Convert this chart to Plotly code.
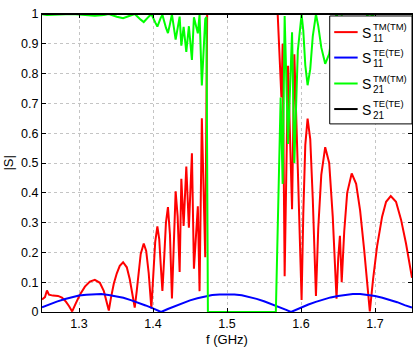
import plotly.graph_objects as go

# Frequency sweep (GHz) and reflection magnitude |S11| for TM incidence
freq_s11_tm = [
    1.2500, 1.2540, 1.2567, 1.2594, 1.2648, 1.2716, 1.2770, 1.2823, 1.2864, 1.2908,
    1.2958, 1.3012, 1.3080, 1.3147, 1.3214, 1.3282, 1.3336, 1.3376, 1.3403,
    1.3430, 1.3470, 1.3511, 1.3551, 1.3596, 1.3646, 1.3686, 1.3726, 1.3753,
    1.3780, 1.3807, 1.3834, 1.3875, 1.3908, 1.3942, 1.3978,
    1.4003, 1.4030, 1.4059, 1.4084, 1.4104, 1.4127,
    1.4151, 1.4175, 1.4202, 1.4229, 1.4256,
    1.4279, 1.4306, 1.4333, 1.4360, 1.4383, 1.4414, 1.4450, 1.4485, 1.4526, 1.4553,
    1.4606, 1.4629, 1.4660, 1.4706, 1.4732,
    1.5685, 1.5735, 1.5752, 1.5779, 1.5825, 1.5879, 1.5910, 1.5957, 1.6008,
    1.6031, 1.6058, 1.6089, 1.6125, 1.6159, 1.6202,
    1.6233, 1.6274, 1.6327, 1.6381, 1.6429, 1.6480,
    1.6503, 1.6526, 1.6550, 1.6584, 1.6624, 1.6685, 1.6745, 1.6799, 1.6853, 1.6894, 1.6930,
    1.6974, 1.7028, 1.7096, 1.7150, 1.7213, 1.7284, 1.7352, 1.7419, 1.7500,
]
s11_tm = [
    0.042, 0.050, 0.072, 0.058, 0.055, 0.054, 0.048, 0.035, 0.020, 0.002,
    0.030, 0.058, 0.085, 0.102, 0.108, 0.098, 0.070, 0.035, 0.005,
    0.045, 0.095, 0.130, 0.155, 0.167, 0.150, 0.110, 0.055, 0.015,
    0.070, 0.140, 0.195, 0.230, 0.205, 0.130, 0.012,
    0.120, 0.235, 0.287, 0.245, 0.160, 0.071,
    0.180, 0.300, 0.352, 0.260, 0.045,
    0.250, 0.405, 0.320, 0.134, 0.447, 0.289, 0.488, 0.283, 0.533, 0.145,
    0.355, 0.070, 0.650, 0.184, 1.000,
    1.000, 0.720, 0.900, 0.120, 0.826, 0.345, 0.865, 0.480, 0.040,
    0.330, 0.560, 0.649, 0.580, 0.380, 0.054,
    0.280, 0.460, 0.553, 0.500, 0.320, 0.045,
    0.180, 0.256, 0.100, 0.270, 0.400, 0.465, 0.430, 0.340, 0.210, 0.100, 0.002,
    0.110, 0.220, 0.320, 0.370, 0.389, 0.370, 0.310, 0.230, 0.115,
]

# Reflection |S11| for TE incidence
freq_s11_te = [
    1.25, 1.26, 1.27, 1.28, 1.29, 1.30, 1.31, 1.32, 1.33, 1.34, 1.35, 1.36, 1.37,
    1.38, 1.39, 1.40, 1.411, 1.42, 1.43, 1.44, 1.45, 1.46, 1.47, 1.48, 1.49, 1.50,
    1.51, 1.52, 1.53, 1.54, 1.55, 1.56, 1.57, 1.58, 1.5865, 1.59, 1.60, 1.61, 1.62,
    1.63, 1.64, 1.65, 1.66, 1.67, 1.68, 1.69, 1.70, 1.71, 1.72, 1.73, 1.74, 1.75,
]
s11_te = [
    0.016, 0.026, 0.035, 0.043, 0.050, 0.055, 0.058, 0.060, 0.060, 0.057, 0.053, 0.048, 0.040,
    0.032, 0.022, 0.012, 0.000, 0.010, 0.020, 0.030, 0.039, 0.046, 0.052, 0.057, 0.059, 0.060,
    0.059, 0.056, 0.051, 0.044, 0.036, 0.027, 0.018, 0.007, 0.000, 0.004, 0.014, 0.025, 0.034,
    0.042, 0.049, 0.054, 0.058, 0.060, 0.060, 0.058, 0.054, 0.048, 0.041, 0.033, 0.023, 0.015,
]

# Transmission |S21| for TM incidence
freq_s21_tm = [
    1.2500, 1.2567, 1.2908, 1.3080, 1.3214, 1.3336, 1.3403, 1.3511, 1.3596, 1.3686, 1.3753,
    1.3834, 1.3875, 1.3942, 1.3978, 1.4030, 1.4059, 1.4104, 1.4127, 1.4175, 1.4202, 1.4229,
    1.4256, 1.4306, 1.4360, 1.4383, 1.4414, 1.4450, 1.4485, 1.4526, 1.4553, 1.4606, 1.4629,
    1.4660, 1.4706, 1.4722, 1.4742,
    1.5660, 1.5725, 1.5752, 1.5779, 1.5825, 1.5879, 1.5910, 1.5957, 1.6008,
    1.6031, 1.6058, 1.6089, 1.6125, 1.6159, 1.6202,
    1.6233, 1.6274, 1.6327, 1.6381, 1.6429, 1.6480,
    1.6503, 1.6526, 1.6550, 1.6584, 1.6624, 1.6685, 1.6745, 1.6799, 1.6853, 1.6894, 1.6930,
    1.6974, 1.7028, 1.7096, 1.7150, 1.7213, 1.7284, 1.7352, 1.7419, 1.7500,
]
s21_tm = [
    0.999, 0.997, 1.000, 0.996, 0.994, 0.997, 1.000, 0.991, 0.986, 0.994, 1.000,
    0.981, 0.973, 0.991, 1.000, 0.972, 0.958, 0.987, 0.997, 0.954, 0.936, 0.966,
    0.999, 0.914, 0.991, 0.894, 0.957, 0.873, 0.959, 0.846, 0.989, 0.935, 0.998,
    0.760, 0.983, 0.990, 0.000,
    0.000, 0.720, 0.430, 0.993, 0.564, 0.939, 0.500, 0.877, 0.999,
    0.944, 0.828, 0.761, 0.815, 0.925, 0.999,
    0.960, 0.888, 0.833, 0.866, 0.947, 0.999,
    0.984, 0.967, 0.995, 0.963, 0.917, 0.885, 0.903, 0.940, 0.978, 0.995, 1.000,
    0.994, 0.976, 0.947, 0.929, 0.921, 0.929, 0.951, 0.973, 0.993,
]

# Transmission |S21| for TE incidence (fully transmitted)
freq_s21_te = [1.25, 1.75]
s21_te = [1.0, 1.0]

x_ticks = [1.3, 1.4, 1.5, 1.6, 1.7]
y_ticks = [0, 0.1, 0.2, 0.3, 0.4, 0.5, 0.6, 0.7, 0.8, 0.9, 1]
y_tick_text = ["0", "0.1", "0.2", "0.3", "0.4", "0.5", "0.6", "0.7", "0.8", "0.9", "1"]

series = [
    (freq_s11_tm, s11_tm, "#ff0000", "TM(TM)", "11"),
    (freq_s11_te, s11_te, "#0000ff", "TE(TE)", "11"),
    (freq_s21_tm, s21_tm, "#00ff00", "TM(TM)", "21"),
    (freq_s21_te, s21_te, "#000000", "TE(TE)", "21"),
]

W, H = 420, 347
ML, MR, MT, MB = 42, 7, 11, 35
PW, PH = W - ML - MR, H - MT - MB


def px(x):
    """Pixel column -> paper x."""
    return (x - ML) / PW


def py(y):
    """Pixel row (from top) -> paper y."""
    return (H - MB - y) / PH


fig = go.Figure()
for fx, fy, color, sup, sub in series:
    fig.add_trace(go.Scatter(x=fx, y=fy, mode="lines",
                             line=dict(color=color, width=2),
                             showlegend=False, hoverinfo="skip"))

font = "Liberation Sans, Arial, Helvetica, sans-serif"

# Legend box with line samples and stacked super/subscripts
fig.add_shape(type="rect", xref="paper", yref="paper",
              x0=px(330.5), x1=px(413), y0=py(122), y1=py(13),
              line=dict(color="#000000", width=1), fillcolor="#ffffff", layer="above")
row_y = [29.3, 55.0, 81.2, 107.0]
for (fx, fy, color, sup, sub), ry in zip(series, row_y):
    fig.add_shape(type="line", xref="paper", yref="paper",
                  x0=px(335), x1=px(358.5), y0=py(ry), y1=py(ry),
                  line=dict(color=color, width=2), layer="above")
    fig.add_annotation(xref="paper", yref="paper", x=px(361.5), y=py(ry + 0.5),
                       text="S", showarrow=False, xanchor="left", yanchor="middle",
                       font=dict(family=font, size=14, color="#000000"), borderpad=0)
    fig.add_annotation(xref="paper", yref="paper", x=px(372.5), y=py(ry - 5.5),
                       text=sup, showarrow=False, xanchor="left", yanchor="middle",
                       font=dict(family=font, size=9.5, color="#000000"), borderpad=0)
    fig.add_annotation(xref="paper", yref="paper", x=px(372.5), y=py(ry + 6.5),
                       text=sub, showarrow=False, xanchor="left", yanchor="middle",
                       font=dict(family=font, size=10, color="#000000"), borderpad=0)

# Axis titles
fig.add_annotation(xref="paper", yref="paper", x=px(7.5), y=py(161.5), text="|S|",
                   textangle=-90, showarrow=False, xanchor="center", yanchor="middle",
                   font=dict(family=font, size=13, color="#000000"))
fig.add_annotation(xref="paper", yref="paper", x=px(227.5), y=py(339.5), text="f (GHz)",
                   showarrow=False, xanchor="center", yanchor="middle", borderpad=0,
                   font=dict(family=font, size=13, color="#000000"))

axis_common = dict(showline=True, linecolor="#000000", linewidth=1, mirror="ticks",
                   ticks="inside", ticklen=4, tickcolor="#000000",
                   showgrid=True, gridcolor="#c4c4c4", griddash="dot", gridwidth=1,
                   zeroline=False, tickfont=dict(family=font, size=12.5, color="#000000"))

fig.update_layout(
    width=W, height=H,
    margin=dict(l=ML, r=MR, t=MT, b=MB),
    paper_bgcolor="#ffffff", plot_bgcolor="#ffffff",
    xaxis=dict(range=[1.25, 1.75], tickvals=x_ticks, ticklabelstandoff=0, **axis_common),
    yaxis=dict(range=[0, 1], tickvals=y_ticks, ticktext=y_tick_text, **axis_common),
)

fig.write_html("out.html")
